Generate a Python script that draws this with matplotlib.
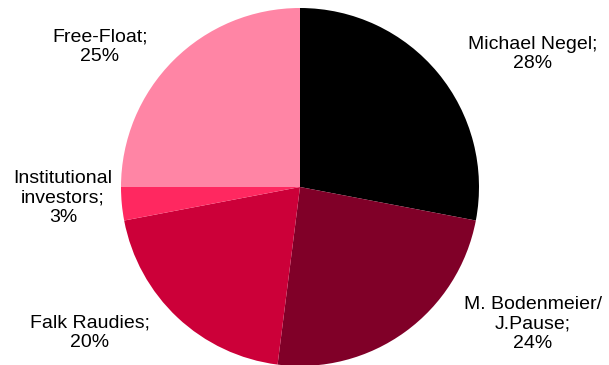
import matplotlib
matplotlib.use("Agg")
import matplotlib.pyplot as plt

labels = ["Michael Negel;\n28%", "M. Bodenmeier/\nJ.Pause;\n24%", "Falk Raudies;\n20%",
          "Institutional\ninvestors;\n3%", "Free-Float;\n25%"]
values = [28, 24, 20, 3, 25]
colors = ["#000000", "#800028", "#CC0039", "#FF2860", "#FF85A5"]

label_pos = [(533, 311), (533, 41), (90, 32), (63, 167), (100, 318)]

plt.rcParams['font.family'] = ['Liberation Sans', 'DejaVu Sans']
fig = plt.figure(figsize=(6.09, 3.65), dpi=100)
ax = fig.add_axes([0, 0, 1, 1])
ax.pie(values, colors=colors, startangle=90, counterclock=False,
       center=(300, 178), radius=179, wedgeprops=dict(linewidth=0))
ax.set_xlim(0, 609)
ax.set_ylim(0, 365)
ax.set_aspect('equal')
ax.axis('off')
for lab, (x, y) in zip(labels, label_pos):
    ax.text(x, y, lab, ha='center', va='center', fontsize=14, color='#000000',
            linespacing=1.18)
fig.savefig("out.png", dpi=100)
